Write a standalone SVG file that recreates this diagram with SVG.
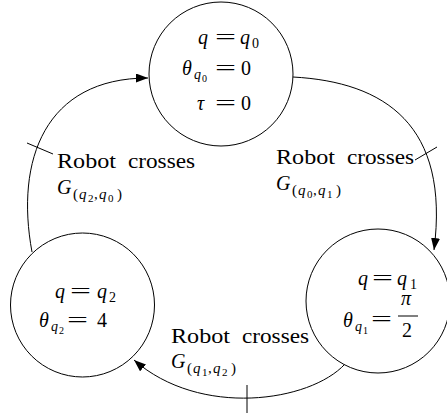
<svg xmlns="http://www.w3.org/2000/svg" width="447" height="414" viewBox="0 0 447 414">
<style>
text{font-family:"Liberation Serif","Times New Roman",serif;font-size:20px;fill:#000}
.i{font-style:italic}
.s{font-size:14px}
.ss{font-size:10px}
.gs{font-size:15px}
.gd{font-size:11px}
.lb{font-size:21px}
circle{fill:#fff;stroke:#000;stroke-width:1}
.e{fill:none;stroke:#000;stroke-width:1}
</style>
<defs>
<marker id="arr" markerUnits="userSpaceOnUse" markerWidth="14" markerHeight="10" refX="12" refY="4.5" orient="auto">
<path d="M0,0 L12,4.5 L0,9 Z" fill="#000"/>
</marker>
</defs>
<g id="connectors">
<path class="e" d="M293 77 C385 82 450 125 434 250" marker-end="url(#arr)"/>
<line class="e" x1="415" y1="160" x2="437" y2="147"/>
<path class="e" d="M345 364 C310 402 200 418 134 360" marker-end="url(#arr)"/>
<line class="e" x1="247" y1="385" x2="247" y2="413"/>
<path class="e" d="M32 252 C15 160 45 78 148 78" marker-end="url(#arr)"/>
<line class="e" x1="27" y1="143" x2="53" y2="154"/>
</g>
<g id="node-q0">
<circle cx="221" cy="74" r="72"/>
<text class="i" x="198" y="44">q</text>
<text x="215" y="44" textLength="21" lengthAdjust="spacingAndGlyphs">=</text>
<text class="i" x="240" y="44">q</text>
<text class="s" x="252" y="48">0</text>
<text class="i" x="182" y="75">θ</text>
<text class="i s" x="194" y="79">q</text>
<text class="ss" x="202" y="82">0</text>
<text x="215" y="75" textLength="21" lengthAdjust="spacingAndGlyphs">=</text>
<text x="241" y="75">0</text>
<text class="i" x="197" y="110">τ</text>
<text x="215" y="110" textLength="21" lengthAdjust="spacingAndGlyphs">=</text>
<text x="241" y="110">0</text>
</g>
<g id="node-q1">
<circle cx="378" cy="301" r="72"/>
<text class="i" x="358" y="285">q</text>
<text x="372" y="285" textLength="21" lengthAdjust="spacingAndGlyphs">=</text>
<text class="i" x="397" y="285">q</text>
<text class="s" x="410" y="289">1</text>
<text class="i" x="343" y="327">θ</text>
<text class="i s" x="355" y="331">q</text>
<text class="ss" x="363" y="334">1</text>
<text x="371" y="326" textLength="21" lengthAdjust="spacingAndGlyphs">=</text>
<text class="i" x="401" y="305">π</text>
<line x1="398" y1="316" x2="418" y2="316" stroke="#000" stroke-width="1"/>
<text x="402" y="337">2</text>
</g>
<g id="node-q2">
<circle cx="82.5" cy="305" r="72"/>
<text class="i" x="55" y="298">q</text>
<text x="70" y="298" textLength="21" lengthAdjust="spacingAndGlyphs">=</text>
<text class="i" x="97" y="298">q</text>
<text class="s" x="109" y="302">2</text>
<text class="i" x="39" y="327">θ</text>
<text class="i s" x="51" y="331">q</text>
<text class="ss" x="59" y="334">2</text>
<text x="67" y="327" textLength="21" lengthAdjust="spacingAndGlyphs">=</text>
<text x="97" y="327">4</text>
</g>
<g id="label-q0-q1">
<text class="lb" x="276" y="164" textLength="59" lengthAdjust="spacingAndGlyphs">Robot</text>
<text class="lb" x="347" y="164" textLength="67" lengthAdjust="spacingAndGlyphs">crosses</text>
<text class="i" x="276" y="190">G</text>
<text class="gs" x="292" y="195">(</text>
<text class="i gs" x="298" y="195">q</text>
<text class="gd" x="307" y="198">0</text>
<text class="gs" x="313" y="195">,</text>
<text class="i gs" x="318" y="195">q</text>
<text class="gd" x="327" y="198">1</text>
<text class="gs" x="336" y="195">)</text>
</g>
<g id="label-q2-q0">
<text class="lb" x="57" y="168" textLength="59" lengthAdjust="spacingAndGlyphs">Robot</text>
<text class="lb" x="128" y="168" textLength="67" lengthAdjust="spacingAndGlyphs">crosses</text>
<text class="i" x="57" y="194">G</text>
<text class="gs" x="73" y="199">(</text>
<text class="i gs" x="79" y="199">q</text>
<text class="gd" x="88" y="202">2</text>
<text class="gs" x="94" y="199">,</text>
<text class="i gs" x="99" y="199">q</text>
<text class="gd" x="108" y="202">0</text>
<text class="gs" x="117" y="199">)</text>
</g>
<g id="label-q1-q2">
<text class="lb" x="171" y="343" textLength="59" lengthAdjust="spacingAndGlyphs">Robot</text>
<text class="lb" x="242" y="343" textLength="67" lengthAdjust="spacingAndGlyphs">crosses</text>
<text class="i" x="171" y="368">G</text>
<text class="gs" x="187" y="373">(</text>
<text class="i gs" x="193" y="373">q</text>
<text class="gd" x="202" y="376">1</text>
<text class="gs" x="208" y="373">,</text>
<text class="i gs" x="213" y="373">q</text>
<text class="gd" x="222" y="376">2</text>
<text class="gs" x="231" y="373">)</text>
</g>
</svg>
